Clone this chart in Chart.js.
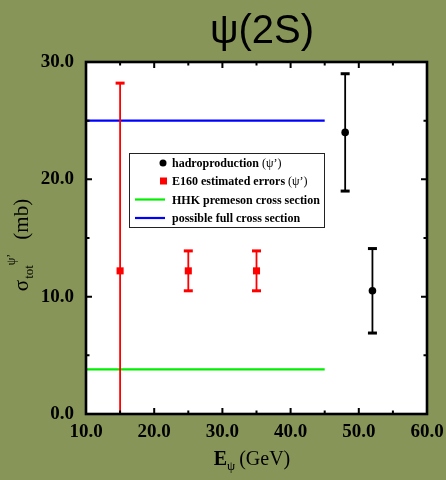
<!DOCTYPE html>
<html>
<head>
<meta charset="utf-8">
<script src="https://cdn.jsdelivr.net/npm/chart.js@4.4.0/dist/chart.umd.min.js"></script>
<style>
  html, body { margin: 0; padding: 0; background: #879559; }
</style>
</head>
<body>
<canvas id="chart" width="446" height="480"></canvas>
<script>
(function() {

  'use strict';

  // hadroproduction (psi') measurements: energy, cross section, error range
  var hadroEnergy = [48, 52];
  var hadroSigma = [24.0, 10.5];
  var hadroLow = [19.0, 6.9];
  var hadroHigh = [29.0, 14.1];

  // E160 estimated errors
  var e160Energy = [15, 25, 35];
  var e160Sigma = [12.2, 12.2, 12.2];
  var e160Low = [0.0, 10.5, 10.5];
  var e160High = [28.2, 13.9, 13.9];

  // horizontal reference lines
  var lineEnergy = [10, 45];
  var hhkSigma = [3.8, 3.8];
  var fullSigma = [25.0, 25.0];

  var legendLabels = [
    ['hadroproduction', ' (\u03c8\u2019)'],
    ['E160 estimated errors', ' (\u03c8\u2019)'],
    ['HHK premeson cross section', ''],
    ['possible full cross section', '']
  ];

  var OLIVE = '#879559';
  var SERIF = '"Liberation Serif", "Times New Roman", serif';

  function toPoints(xs, ys) {
    return xs.map(function(x, i) {
      return { x: x, y: ys[i] };
    });
  }

  // one small line dataset per error bar, caps drawn as 'line' points
  function errorBars(xs, lo, hi, color) {
    return xs.map(function(x, i) {
      return {
        type: 'scatter',
        showLine: true,
        data: [{ x: x, y: lo[i] }, { x: x, y: hi[i] }],
        borderColor: color,
        borderWidth: 1.8,
        pointStyle: 'line',
        pointRadius: lo[i] === 0 ? [0, 4.5] : 4.5,
        pointBorderWidth: 3,
        pointBorderColor: color,
        pointBackgroundColor: color
      };
    });
  }

  var datasets = [
    {
      label: 'hadroproduction',
      data: toPoints(hadroEnergy, hadroSigma),
      pointStyle: 'circle',
      pointRadius: 3.8,
      backgroundColor: '#000',
      borderColor: '#000',
      borderWidth: 0
    },
    {
      label: 'E160 estimated errors',
      data: toPoints(e160Energy, e160Sigma),
      pointStyle: 'rect',
      pointRadius: 5,
      backgroundColor: '#ff0000',
      borderColor: '#ff0000',
      borderWidth: 0
    }
  ]
    .concat(errorBars(hadroEnergy, hadroLow, hadroHigh, '#000'))
    .concat(errorBars(e160Energy, e160Low, e160High, '#ff0000'))
    .concat([
      {
        label: 'possible full cross section',
        data: toPoints(lineEnergy, fullSigma),
        showLine: true,
        borderColor: '#0000ff',
        borderWidth: 2.2,
        pointRadius: 0
      },
      {
        label: 'HHK premeson cross section',
        data: toPoints(lineEnergy, hhkSigma),
        showLine: true,
        borderColor: '#00ee00',
        borderWidth: 2.2,
        pointRadius: 0
      }
    ]);

  function drawParts(ctx, x, y, parts) {
    parts.forEach(function(p) {
      ctx.font = p.font;
      ctx.fillText(p.text, x, y + (p.dy || 0));
      x += ctx.measureText(p.text).width + (p.gap || 0);
    });
    return x;
  }

  function partsWidth(ctx, parts) {
    return parts.reduce(function(w, p) {
      ctx.font = p.font;
      return w + ctx.measureText(p.text).width + (p.gap || 0);
    }, 0);
  }

  var decor = {
    id: 'decor',
    beforeDraw: function(chart) {
      var ctx = chart.ctx, a = chart.chartArea;
      ctx.save();
      ctx.fillStyle = OLIVE;
      ctx.fillRect(0, 0, chart.width, chart.height);
      ctx.fillStyle = '#fff';
      ctx.fillRect(a.left, a.top, a.right - a.left, a.bottom - a.top);
      ctx.restore();
    },
    afterDatasetsDraw: function(chart) {
      var ctx = chart.ctx, a = chart.chartArea;
      var xs = chart.scales.x, ys = chart.scales.y;
      ctx.save();

      // inward ticks on all four sides
      ctx.strokeStyle = '#000';
      ctx.lineWidth = 2;
      ctx.beginPath();
      xs.ticks.forEach(function(t) {
        var px = xs.getPixelForValue(t.value);
        var len = t.value % 10 === 0 ? 6 : 3.5;
        ctx.moveTo(px, a.bottom); ctx.lineTo(px, a.bottom - len);
        ctx.moveTo(px, a.top); ctx.lineTo(px, a.top + len);
      });
      ys.ticks.forEach(function(t) {
        var py = ys.getPixelForValue(t.value);
        var len = t.value % 10 === 0 ? 6 : 3.5;
        ctx.moveTo(a.left, py); ctx.lineTo(a.left + len, py);
        ctx.moveTo(a.right, py); ctx.lineTo(a.right - len, py);
      });
      ctx.stroke();

      // frame
      ctx.lineWidth = 2.6;
      ctx.strokeRect(a.left, a.top, a.right - a.left, a.bottom - a.top);

      // legend box
      var lx = 129, ly = 153, lw = 195, lh = 74;
      ctx.fillStyle = '#fff';
      ctx.fillRect(lx, ly, lw, lh);
      ctx.lineWidth = 1;
      ctx.strokeStyle = '#222';
      ctx.strokeRect(lx + 0.5, ly + 0.5, lw, lh);

      var rows = [163, 181, 199.5, 218];
      ctx.textBaseline = 'middle';
      legendLabels.forEach(function(lab, i) {
        var y = rows[i];
        if (i === 0) {
          ctx.fillStyle = '#000';
          ctx.beginPath();
          ctx.arc(163, y, 3.5, 0, Math.PI * 2);
          ctx.fill();
        } else if (i === 1) {
          ctx.fillStyle = '#ff0000';
          ctx.fillRect(160, y - 3.5, 7, 7);
        } else {
          ctx.strokeStyle = i === 2 ? '#00ee00' : '#0000ff';
          ctx.lineWidth = 2.2;
          ctx.beginPath();
          ctx.moveTo(135, y);
          ctx.lineTo(165, y);
          ctx.stroke();
        }
        ctx.fillStyle = '#000';
        drawParts(ctx, 172, y + 1, [
          { text: lab[0], font: 'bold 12px ' + SERIF },
          { text: lab[1], font: '12px ' + SERIF }
        ]);
      });
      ctx.restore();
    },
    afterDraw: function(chart) {
      var ctx = chart.ctx;
      ctx.save();
      ctx.fillStyle = '#000';

      // title
      ctx.textAlign = 'center';
      ctx.textBaseline = 'alphabetic';
      ctx.font = '40px "Liberation Sans", Arial, sans-serif';
      ctx.fillText('\u03c8(2S)', 262, 43);

      // x axis title
      ctx.textAlign = 'left';
      var xParts = [
        { text: 'E', font: 'bold 20px ' + SERIF },
        { text: '\u03c8', font: '13px ' + SERIF, dy: 5, gap: 4 },
        { text: '(GeV)', font: '20px ' + SERIF }
      ];
      var w = partsWidth(ctx, xParts);
      drawParts(ctx, 252 - w / 2, 465, xParts);

      // y axis title, rotated
      ctx.translate(28, 245);
      ctx.rotate(-Math.PI / 2);
      var yParts = [
        { text: '\u03c3', font: '21px ' + SERIF, gap: 1 },
        { text: 'tot', font: '13px ' + SERIF, dy: 5, gap: 0 },
        { text: '\u03c8\u2019', font: '12px ' + SERIF, dy: -13, gap: 14 },
        { text: '(mb)', font: '21px ' + SERIF }
      ];
      var wy = partsWidth(ctx, yParts);
      drawParts(ctx, -wy / 2, 0, yParts);
      ctx.restore();
    }
  };

  var tickFont = { family: SERIF, size: 19, weight: 'bold' };

  new Chart(document.getElementById('chart'), {
    type: 'scatter',
    data: { datasets: datasets },
    options: {
      responsive: false,
      animation: false,
      events: [],
      layout: { padding: { top: 62, right: 19, left: 0, bottom: 0 } },
      plugins: {
        legend: { display: false },
        tooltip: { enabled: false },
        title: { display: false }
      },
      scales: {
        x: {
          type: 'linear',
          min: 10,
          max: 60,
          grid: { display: false, drawTicks: false },
          border: { display: false },
          ticks: {
            stepSize: 5,
            padding: 7,
            color: '#000',
            font: tickFont,
            maxRotation: 0,
            autoSkip: false,
            callback: function(v) { return v % 10 === 0 ? v.toFixed(1) : ''; }
          },
          afterFit: function(scale) {
            scale.height = 66;
            // labels may overhang the plot edges like the original
            scale.paddingLeft = 0;
            scale.paddingRight = 0;
          }
        },
        y: {
          type: 'linear',
          min: 0,
          max: 30,
          grid: { display: false, drawTicks: false },
          border: { display: false },
          ticks: {
            stepSize: 5,
            padding: 12,
            color: '#000',
            font: tickFont,
            autoSkip: false,
            callback: function(v) { return v % 10 === 0 ? v.toFixed(1) : ''; }
          },
          afterFit: function(scale) {
            scale.width = 86;
            scale.paddingTop = 0;
            scale.paddingBottom = 0;
          }
        }
      }
    },
    plugins: [decor]
  });

})();
</script>
</body>
</html>
